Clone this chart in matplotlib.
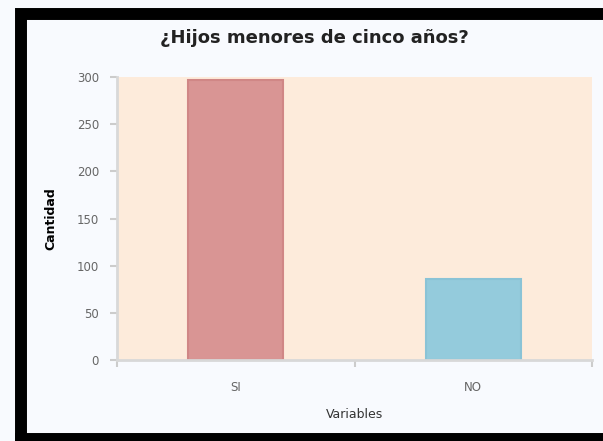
import matplotlib.pyplot as plt
from matplotlib.patches import Rectangle

categorias = ['SI', 'NO']
cantidades = [297, 86]
colores = ['#d99594', '#94cbdc']
bordes = ['#d08786', '#8ac3d6']

fig = plt.figure(figsize=(6.03, 4.41), dpi=100, facecolor='#f8fafe')
ax = fig.add_axes([0.194, 0.184, 0.788, 0.641])
ax.set_facecolor('#fdebdb')

ax.bar(range(len(categorias)), cantidades, width=0.4, color=colores,
       edgecolor=bordes, linewidth=1.5)

ax.set_xlim(-0.5, 1.5)
ax.set_ylim(0, 300)
ax.set_yticks(range(0, 301, 50))
ax.set_xticks(range(len(categorias)))
ax.set_xticklabels(categorias)
ax.set_xticks([-0.5, 0.5, 1.5], minor=True)
ax.tick_params(axis='x', which='major', length=0, pad=15)
ax.tick_params(axis='x', which='minor', length=5, color='#cccccc', width=1.5)
ax.tick_params(axis='y', length=5, color='#cccccc', width=1.5, pad=8)
ax.tick_params(labelsize=8.5, labelcolor='#666666')

for s in ['top', 'right']:
    ax.spines[s].set_visible(False)
for s in ['left', 'bottom']:
    ax.spines[s].set_color('#d8d8d8')
    ax.spines[s].set_linewidth(2)

ax.set_ylabel('Cantidad', fontsize=9, fontweight='bold', labelpad=14)
ax.set_xlabel('Variables', fontsize=9, color='#333333', labelpad=10)
fig.text(0.522, 0.914, '¿Hijos menores de cinco años?', ha='center', va='center',
         fontsize=13, fontweight='bold', color='#222222')

# marco negro del contenedor
fig.patches.append(Rectangle((21 / 603, 2 / 441), 1.2, 425 / 441, transform=fig.transFigure,
                             fill=False, edgecolor='black', linewidth=8.6, zorder=10,
                             joinstyle='miter', capstyle='projecting'))

fig.savefig('out.png', dpi=100, facecolor=fig.get_facecolor())
